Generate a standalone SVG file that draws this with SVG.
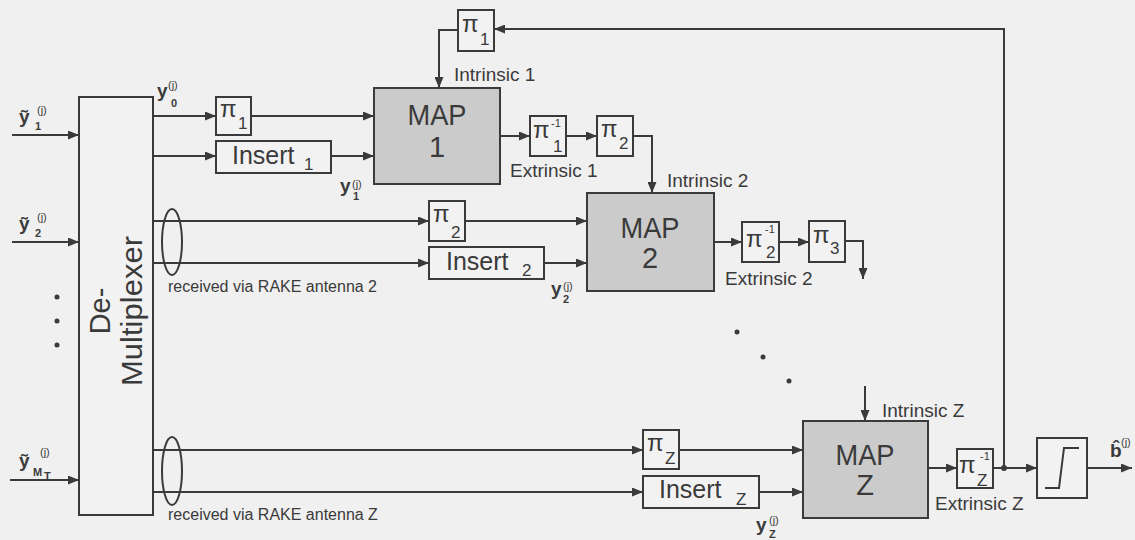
<svg xmlns="http://www.w3.org/2000/svg" width="1135" height="540" viewBox="0 0 1135 540">
<defs>
<marker id="ah" markerUnits="userSpaceOnUse" markerWidth="11" markerHeight="9" refX="11" refY="4.5" orient="auto">
<path d="M0,0 L11,4.5 L0,9 z" fill="#3a3a3a"/>
</marker>
<style>
.ln{fill:none;stroke:#3a3a3a;stroke-width:2}
.bx{fill:#f2f2f2;stroke:#3a3a3a;stroke-width:2}
.map{fill:#cbcbcb;stroke:#3a3a3a;stroke-width:2}
.t{font-family:"Liberation Sans",Arial,sans-serif;fill:#3a3a3a}
.lbl{font-size:19px}
.rk{font-size:16px}
.mp{font-size:29px;text-anchor:middle}
.pi{font-size:24px}
.sb{font-size:17px}
.sp{font-size:11px}
.by{font-size:19px;font-weight:bold}
.bs{font-size:11px;font-weight:bold}
.ins{font-size:25px}
</style>
</defs>
<rect x="0" y="0" width="1135" height="540" fill="#f0f0f0"/>

<g id="connectors">
<path class="ln" d="M12,135 H79" marker-end="url(#ah)"/>
<path class="ln" d="M12,242 H79" marker-end="url(#ah)"/>
<path class="ln" d="M10,480 H79" marker-end="url(#ah)"/>
<path class="ln" d="M153,116 H216" marker-end="url(#ah)"/>
<path class="ln" d="M251,116 H374" marker-end="url(#ah)"/>
<path class="ln" d="M153,156 H216" marker-end="url(#ah)"/>
<path class="ln" d="M331,156 H374" marker-end="url(#ah)"/>
<path class="ln" d="M153,221 H429" marker-end="url(#ah)"/>
<path class="ln" d="M465,221 H587" marker-end="url(#ah)"/>
<path class="ln" d="M153,263 H429" marker-end="url(#ah)"/>
<path class="ln" d="M544,263 H587" marker-end="url(#ah)"/>
<path class="ln" d="M153,450 H643" marker-end="url(#ah)"/>
<path class="ln" d="M679,450 H803" marker-end="url(#ah)"/>
<path class="ln" d="M153,492 H643" marker-end="url(#ah)"/>
<path class="ln" d="M759,492 H803" marker-end="url(#ah)"/>
<path class="ln" d="M500,136 H530" marker-end="url(#ah)"/>
<path class="ln" d="M566,136 H597" marker-end="url(#ah)"/>
<path class="ln" d="M633,136 H652 V193" marker-end="url(#ah)"/>
<path class="ln" d="M714,242 H742" marker-end="url(#ah)"/>
<path class="ln" d="M779,242 H809" marker-end="url(#ah)"/>
<path class="ln" d="M845,241 H863 V279" marker-end="url(#ah)"/>
<path class="ln" d="M865,386 V421" marker-end="url(#ah)"/>
<path class="ln" d="M928,468 H957" marker-end="url(#ah)"/>
<path class="ln" d="M993,468 H1037" marker-end="url(#ah)"/>
<path class="ln" d="M1087,468 H1132" marker-end="url(#ah)"/>
<path class="ln" d="M1004,468 V29 H494" marker-end="url(#ah)"/>
<path class="ln" d="M458,30 H439 V88" marker-end="url(#ah)"/>
<circle cx="1004" cy="468" r="3" fill="#3a3a3a"/>
<ellipse class="ln" cx="172" cy="242" rx="10" ry="33" stroke-width="1.5"/>
<ellipse class="ln" cx="172" cy="471" rx="10" ry="34" stroke-width="1.5"/>
</g>

<g id="inputs">
<text class="t by" x="19" y="123">ỹ</text><text class="t bs" x="35" y="130">1</text><text class="t sp" x="37" y="114">(j)</text>
<text class="t by" x="19" y="230">ỹ</text><text class="t bs" x="35" y="237">2</text><text class="t sp" x="37" y="221">(j)</text>
<text class="t by" x="19" y="467">ỹ</text><text class="t bs" x="33" y="476">M</text><text class="t bs" x="44" y="480" font-size="9">T</text><text class="t sp" x="40" y="456">(j)</text>
<circle cx="57" cy="297" r="2.5" fill="#3a3a3a"/>
<circle cx="57" cy="321" r="2.5" fill="#3a3a3a"/>
<circle cx="57" cy="345" r="2.5" fill="#3a3a3a"/>
</g>

<g id="demux">
<rect class="bx" x="79" y="97" width="74" height="418"/>
<text class="t" font-size="29" text-anchor="middle" transform="translate(110,311) rotate(-90)">De-</text>
<text class="t" font-size="29" text-anchor="middle" textLength="150" lengthAdjust="spacingAndGlyphs" transform="translate(142,311) rotate(-90)">Multiplexer</text>
</g>

<g id="pi1a">
<rect class="bx" x="216" y="97" width="35" height="38"/>
<text class="t pi" x="220" y="117">π</text><text class="t sb" x="238" y="129">1</text>
</g>
<g id="insert1">
<rect class="bx" x="216" y="141" width="115" height="32"/>
<text class="t ins" x="232" y="164">Insert</text><text class="t sb" x="304" y="170">1</text>
</g>
<g id="labels-y">
<text class="t by" x="157" y="97" font-size="18">y</text><text class="t bs" x="171" y="107">0</text><text class="t sp" x="168" y="89">(j)</text>
<text class="t by" x="340" y="192" font-size="18">y</text><text class="t bs" x="353" y="200">1</text><text class="t sp" x="352" y="188">(j)</text>
<text class="t by" x="551" y="295" font-size="18">y</text><text class="t bs" x="563" y="303">2</text><text class="t sp" x="563" y="290">(j)</text>
<text class="t by" x="756" y="531" font-size="18">y</text><text class="t bs" x="769" y="538">Z</text><text class="t sp" x="769" y="524">(j)</text>
</g>

<g id="pi1top">
<rect class="bx" x="458" y="10" width="36" height="41"/>
<text class="t pi" x="462" y="32">π</text><text class="t sb" x="480" y="45">1</text>
</g>
<text class="t lbl" x="454" y="81">Intrinsic 1</text>

<g id="map1">
<rect class="map" x="374" y="88" width="126" height="96"/>
<text class="t mp" x="437" y="125" textLength="59" lengthAdjust="spacingAndGlyphs">MAP</text>
<text class="t mp" x="437" y="157">1</text>
</g>

<g id="pi1inv">
<rect class="bx" x="530" y="116" width="36" height="40"/>
<text class="t pi" x="533" y="138">π</text><text class="t sp" x="551" y="127">-1</text><text class="t sb" x="553" y="152">1</text>
</g>
<text class="t lbl" x="510" y="177">Extrinsic 1</text>
<g id="pi2a">
<rect class="bx" x="597" y="116" width="36" height="40"/>
<text class="t pi" x="601" y="137">π</text><text class="t sb" x="619" y="149">2</text>
</g>
<text class="t lbl" x="667" y="187">Intrinsic 2</text>

<g id="pi2b">
<rect class="bx" x="429" y="201" width="36" height="40"/>
<text class="t pi" x="433" y="222">π</text><text class="t sb" x="451" y="238">2</text>
</g>
<g id="insert2">
<rect class="bx" x="429" y="247" width="115" height="32"/>
<text class="t ins" x="446" y="270">Insert</text><text class="t sb" x="522" y="276">2</text>
</g>
<text class="t rk" x="168" y="292">received via RAKE antenna 2</text>

<g id="map2">
<rect class="map" x="587" y="193" width="127" height="98"/>
<text class="t mp" x="650" y="238" textLength="59" lengthAdjust="spacingAndGlyphs">MAP</text>
<text class="t mp" x="650" y="268">2</text>
</g>

<g id="pi2inv">
<rect class="bx" x="742" y="222" width="37" height="40"/>
<text class="t pi" x="746" y="247">π</text><text class="t sp" x="765" y="233">-1</text><text class="t sb" x="766" y="258">2</text>
</g>
<text class="t lbl" x="725" y="285">Extrinsic 2</text>
<g id="pi3">
<rect class="bx" x="809" y="221" width="36" height="41"/>
<text class="t pi" x="813" y="243">π</text><text class="t sb" x="830" y="254">3</text>
</g>

<g id="dots">
<circle cx="737" cy="332" r="2.5" fill="#3a3a3a"/>
<circle cx="763" cy="357" r="2.5" fill="#3a3a3a"/>
<circle cx="789" cy="381" r="2.5" fill="#3a3a3a"/>
</g>

<g id="piZ">
<rect class="bx" x="643" y="430" width="36" height="39"/>
<text class="t pi" x="647" y="451">π</text><text class="t sb" x="665" y="464">Z</text>
</g>
<g id="insertZ">
<rect class="bx" x="643" y="476" width="116" height="32"/>
<text class="t ins" x="659" y="498">Insert</text><text class="t sb" x="736" y="505">Z</text>
</g>
<text class="t rk" x="168" y="520">received via RAKE antenna Z</text>

<text class="t lbl" x="882" y="417">Intrinsic Z</text>
<g id="mapZ">
<rect class="map" x="803" y="421" width="125" height="97"/>
<text class="t mp" x="865" y="465" textLength="59" lengthAdjust="spacingAndGlyphs">MAP</text>
<text class="t mp" x="865" y="495">Z</text>
</g>

<g id="piZinv">
<rect class="bx" x="957" y="449" width="36" height="39"/>
<text class="t pi" x="959" y="473">π</text><text class="t sp" x="980" y="460">-1</text><text class="t sb" x="977" y="486">Z</text>
</g>
<text class="t lbl" x="935" y="510">Extrinsic Z</text>

<g id="decision">
<rect class="bx" x="1037" y="438" width="50" height="60"/>
<path class="ln" d="M1045,488 H1059 L1064,448 H1079"/>
</g>

<g id="output">
<text class="t by" font-size="16" x="1110" y="457">b̂</text>
<text class="t sp" x="1121" y="446">(j)</text>
</g>
</svg>
